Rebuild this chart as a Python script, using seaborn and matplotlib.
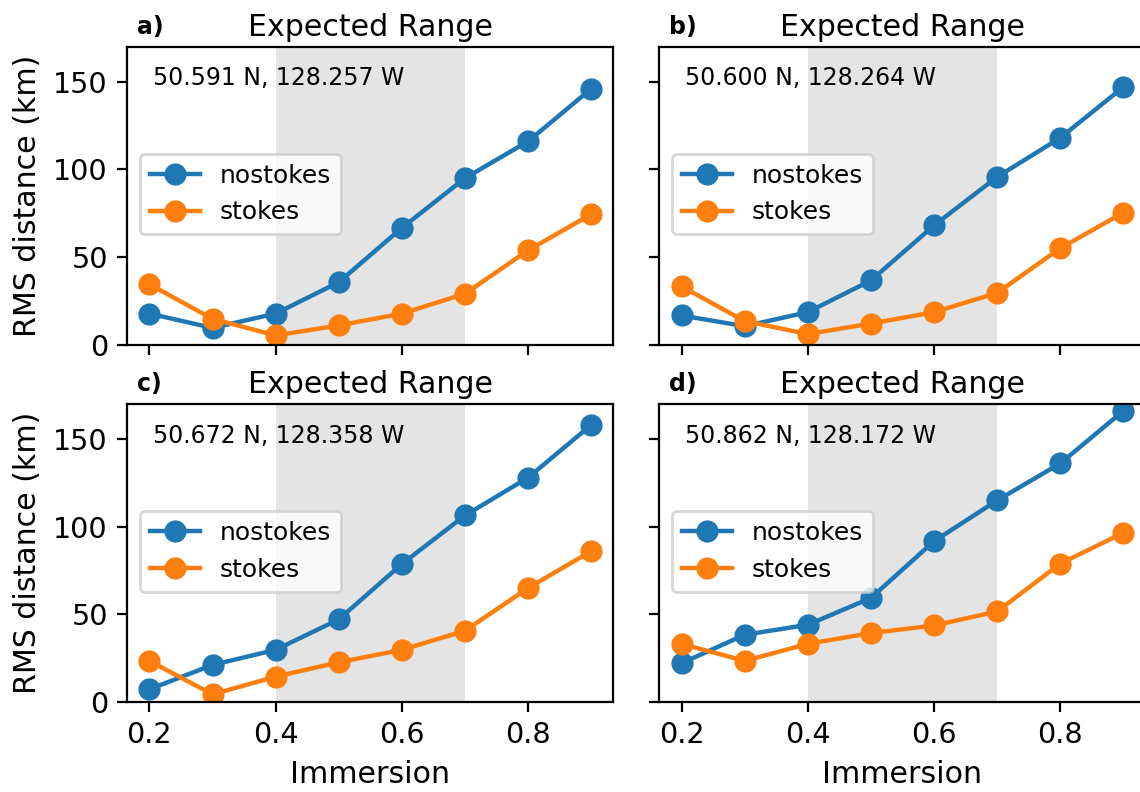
import pandas as pd
import seaborn as sns
import matplotlib.pyplot as plt

immersion = [0.2, 0.3, 0.4, 0.5, 0.6, 0.7, 0.8, 0.9]

nostokes_a = [17.7, 9.5, 17.7, 35.6, 66.6, 95, 116, 146]
stokes_a = [34.4, 14.7, 5.2, 10.9, 17.7, 29, 53.8, 74.4]
nostokes_b = [16.6, 10.5, 18.5, 36.6, 68, 95.7, 118, 147]
stokes_b = [33.2, 13.4, 6, 12, 18.5, 29.5, 55, 75.3]
nostokes_c = [7.1, 21, 29.6, 47, 78.6, 106.3, 127.9, 158]
stokes_c = [23.3, 4.2, 14.3, 22.5, 29.6, 40.5, 64.9, 85.9]
nostokes_d = [22, 38.2, 43.9, 59.2, 91.6, 114.9, 136, 166]
stokes_d = [33, 23.3, 33, 39.2, 43.5, 51.5, 78.8, 96.4]

panel_labels = ["a)", "b)", "c)", "d)"]
locations = ["50.591 N, 128.257 W", "50.600 N, 128.264 W",
             "50.672 N, 128.358 W", "50.862 N, 128.172 W"]
series = [(nostokes_a, stokes_a), (nostokes_b, stokes_b),
          (nostokes_c, stokes_c), (nostokes_d, stokes_d)]

plt.rcParams['font.family'] = ['DejaVu Sans']

fig, axes = plt.subplots(2, 2, figsize=(5.7, 3.96), dpi=200, sharex=True, sharey=True)
# the original is cropped a bit on the right, so panel b/d right spines fall off the edge
fig.subplots_adjust(left=0.1117, right=1.0048, top=0.941, bottom=0.114, hspace=0.199, wspace=0.095)

for ax, lab, loc, (ns, st) in zip(axes.flat, panel_labels, locations, series):
    df = pd.DataFrame({
        "Immersion": immersion * 2,
        "RMS": ns + st,
        "run": ["nostokes"] * len(ns) + ["stokes"] * len(st),
    })
    ax.axvspan(0.4, 0.7, color="#e4e4e4", lw=0, zorder=0)
    sns.lineplot(data=df, x="Immersion", y="RMS", hue="run", marker="o",
                 markersize=8, markeredgewidth=0, linewidth=1.6,
                 palette=["#1f77b4", "#ff7f0e"], ax=ax)
    ax.set_title("Expected Range", fontsize=10.8, pad=4)
    ax.text(0.02, 1.025, lab, transform=ax.transAxes, fontsize=8.5, fontweight="bold",
            ha="left", va="bottom")
    ax.text(0.053, 0.87, loc, transform=ax.transAxes, fontsize=8.5)
    ax.legend(loc="center left", fontsize=9, bbox_to_anchor=(0.0, 0.505))
    ax.set_ylim(0, 170)
    ax.set_xticks([0.2, 0.4, 0.6, 0.8])
    ax.set_yticks([0, 50, 100, 150])
    ax.tick_params(labelsize=10.3)
    ax.set_xlabel("Immersion", fontsize=10.8)
    ax.set_ylabel("RMS distance (km)", fontsize=10.8)

for ax in axes[0]:
    ax.set_xlabel("")
for ax in axes[:, 1]:
    ax.set_ylabel("")

plt.savefig("out.png")
